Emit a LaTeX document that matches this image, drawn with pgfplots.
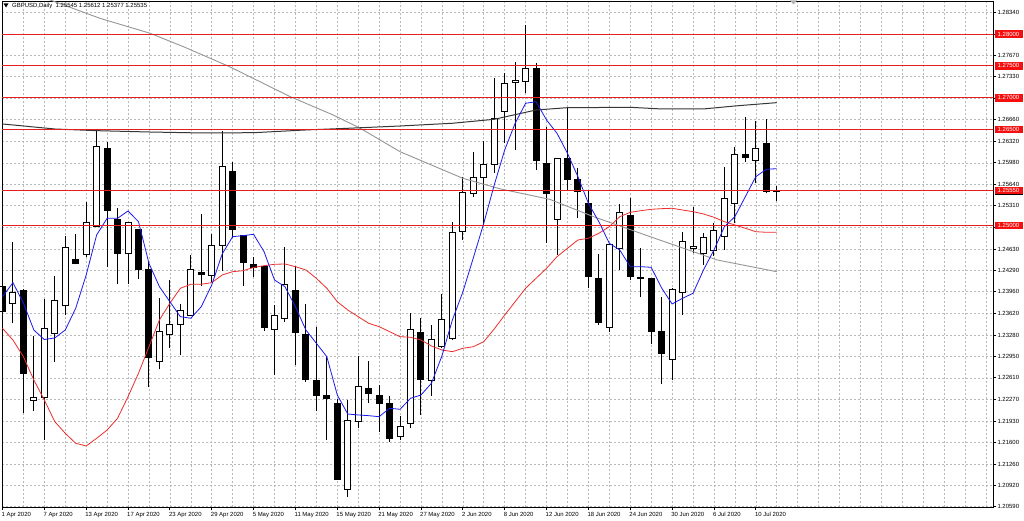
\documentclass[border=0pt]{standalone}
\usepackage{fontspec}
\setmainfont{Liberation Sans}
\usepackage{pgfplots}
\usepackage{pgfplotstable}
\pgfplotsset{compat=1.18}
\definecolor{lvl}{RGB}{232,30,30}
\definecolor{lbl}{RGB}{245,15,15}
\definecolor{maBlue}{RGB}{25,25,240}
\definecolor{maRed}{RGB}{238,45,45}
\definecolor{maDark}{RGB}{55,55,55}
\definecolor{maGrey}{RGB}{150,150,150}
\definecolor{gridc}{RGB}{185,185,185}

\pgfplotstableread{
i o h l c
0 1.24040 1.24405 1.23308 1.23648
1 1.23768 1.24745 1.23465 1.23951
2 1.23987 1.24000 1.22054 1.22681
3 1.22247 1.23266 1.22096 1.22305
4 1.22305 1.23841 1.21636 1.23386
5 1.23308 1.24207 1.22864 1.23815
6 1.23742 1.24834 1.23595 1.24656
7 1.24473 1.24860 1.24390 1.24405
8 1.24536 1.25372 1.24510 1.25043
9 1.24980 1.26485 1.24970 1.26234
10 1.26198 1.26313 1.24353 1.25226
11 1.25100 1.25268 1.24081 1.24562
12 1.24562 1.25060 1.24081 1.25048
13 1.24928 1.24940 1.24160 1.24311
14 1.24301 1.24431 1.22461 1.22932
15 1.22874 1.23857 1.22744 1.23334
16 1.23282 1.24144 1.23073 1.23439
17 1.23449 1.23768 1.22968 1.23658
18 1.23595 1.24536 1.23580 1.24301
19 1.24264 1.25179 1.24055 1.24228
20 1.24207 1.24860 1.24113 1.24688
21 1.24682 1.26485 1.24290 1.25921
22 1.25842 1.25999 1.24797 1.24928
23 1.24834 1.24850 1.24050 1.24416
24 1.24390 1.24510 1.24196 1.24338
25 1.24353 1.24370 1.23350 1.23397
26 1.23360 1.23752 1.22659 1.23595
27 1.23543 1.24667 1.23491 1.24081
28 1.23977 1.24364 1.22811 1.23318
29 1.23292 1.23768 1.22550 1.22587
30 1.22566 1.23402 1.22096 1.22341
31 1.22331 1.22942 1.21636 1.22289
32 1.22211 1.22273 1.21009 1.21019
33 1.20862 1.22263 1.20747 1.21939
34 1.21923 1.22953 1.21819 1.22482
35 1.22441 1.22874 1.22211 1.22367
36 1.22341 1.22498 1.21767 1.22211
37 1.22211 1.22326 1.21610 1.21662
38 1.21698 1.22012 1.21636 1.21855
39 1.21887 1.23632 1.21819 1.23360
40 1.23318 1.23543 1.22028 1.22587
41 1.22566 1.23439 1.22326 1.23214
42 1.23099 1.23925 1.23080 1.23517
43 1.23230 1.25059 1.23210 1.24886
44 1.24902 1.25764 1.24771 1.25513
45 1.25503 1.26145 1.25450 1.25748
46 1.25748 1.26323 1.25006 1.25957
47 1.25957 1.27316 1.25827 1.26668
48 1.26793 1.27384 1.26287 1.27227
49 1.27238 1.27556 1.26182 1.27279
50 1.27253 1.28142 1.27070 1.27462
51 1.27452 1.27541 1.25868 1.26010
52 1.25973 1.26548 1.24729 1.25492
53 1.25095 1.26060 1.24536 1.26051
54 1.26041 1.26861 1.25555 1.25712
55 1.25722 1.25895 1.25111 1.25539
56 1.25346 1.25555 1.24013 1.24196
57 1.24170 1.24552 1.23438 1.23480
58 1.23397 1.24700 1.23334 1.24693
59 1.24640 1.25335 1.24301 1.25205
60 1.25153 1.25424 1.24144 1.24196
61 1.24181 1.24640 1.23883 1.24160
62 1.24170 1.24180 1.23135 1.23344
63 1.23344 1.23883 1.22514 1.22984
64 1.22900 1.24013 1.22576 1.23998
65 1.23951 1.24902 1.23595 1.24745
66 1.24640 1.25294 1.24562 1.24667
67 1.24562 1.24876 1.24379 1.24813
68 1.24614 1.25043 1.24520 1.24912
69 1.24823 1.25921 1.24614 1.25424
70 1.25346 1.26234 1.25032 1.26104
71 1.26104 1.26694 1.25999 1.26067
72 1.26015 1.26642 1.25659 1.26208
73 1.26287 1.26668 1.25503 1.25529
74 1.25545 1.25612 1.25377 1.25535
}\ohlc

\pgfplotstableread{
i v
0 1.23882
1 1.24102
2 1.23783
3 1.23360
4 1.23211
5 1.23235
6 1.23360
7 1.23700
8 1.24222
9 1.24849
10 1.25111
11 1.25111
12 1.25226
13 1.25058
14 1.24406
15 1.24039
16 1.23804
17 1.23569
18 1.23544
19 1.23725
20 1.24066
21 1.24552
22 1.24823
23 1.24839
24 1.24860
25 1.24588
26 1.24144
27 1.24039
28 1.23725
29 1.23360
30 1.23152
31 1.22942
32 1.22341
33 1.22043
34 1.22028
35 1.22017
36 1.22001
37 1.22133
38 1.22117
39 1.22289
40 1.22341
41 1.22525
42 1.22953
43 1.23517
44 1.23956
45 1.24489
46 1.25033
47 1.25633
48 1.26182
49 1.26601
50 1.26914
51 1.26939
52 1.26652
53 1.26444
54 1.26130
55 1.25763
56 1.25346
57 1.25058
58 1.24719
59 1.24614
60 1.24353
61 1.24353
62 1.24343
63 1.24019
64 1.23768
65 1.23857
66 1.23936
67 1.24301
68 1.24614
69 1.24980
70 1.25136
71 1.25450
72 1.25763
73 1.25879
74 1.25889
}\mablue

\pgfplotstableread{
i v
0 1.23387
1 1.23203
2 1.22942
3 1.22576
4 1.22263
5 1.21923
6 1.21741
7 1.21584
8 1.21542
9 1.21662
10 1.21792
11 1.21976
12 1.22315
13 1.22681
14 1.23098
15 1.23517
16 1.23779
17 1.24014
18 1.24077
19 1.24077
20 1.24102
21 1.24222
22 1.24274
23 1.24290
24 1.24340
25 1.24368
26 1.24390
27 1.24395
28 1.24353
29 1.24301
30 1.24171
31 1.24014
32 1.23804
33 1.23674
34 1.23569
35 1.23465
36 1.23412
37 1.23334
38 1.23255
39 1.23246
40 1.23203
41 1.23109
42 1.23047
43 1.23020
44 1.23073
45 1.23098
46 1.23177
47 1.23376
48 1.23595
49 1.23804
50 1.24014
51 1.24171
52 1.24327
53 1.24509
54 1.24641
55 1.24771
56 1.24798
57 1.24876
58 1.24980
59 1.25136
60 1.25205
61 1.25230
62 1.25252
63 1.25262
64 1.25268
65 1.25241
66 1.25215
67 1.25179
68 1.25127
69 1.25058
70 1.25006
71 1.24955
72 1.24901
73 1.24892
74 1.24892
}\mared

\pgfplotstableread{
i v
0 1.26590
5 1.26511
9 1.26485
14 1.26464
19 1.26449
24 1.26453
29 1.26496
33 1.26522
38 1.26558
43 1.26601
47 1.26663
51 1.26809
54 1.26845
60 1.26851
63 1.26825
67 1.26825
70 1.26872
74 1.26924
}\madark

\pgfplotstableread{
i v
0 1.28784
4.55 1.28534
9.3 1.28247
14.1 1.28012
17.3 1.27801
21.7 1.27488
27.5 1.27018
31.6 1.26731
34.2 1.26522
38 1.26155
44 1.25738
47.6 1.25571
52.3 1.25409
56.5 1.25136
61.9 1.24823
68.3 1.24458
74 1.24274
}\magrey

\newcommand{\tf}{\fontsize{6}{7}\selectfont}

\begin{document}
\begin{tikzpicture}
\fill[white] (0,0) rectangle (1024bp,521bp);
\useasboundingbox (0,0) rectangle (1024bp,521bp);
\begin{axis}[
  at={(2bp,13.7bp)}, anchor=south west,
  scale only axis, width=991.3bp, height=506.3bp,
  xmin=-0.045, xmax=94.7, ymin=1.205806, ymax=1.285176,
  clip mode=individual,
  axis line style={black, line width=0.8bp},
  xtick={0,4,...,72},
  xticklabels={1 Apr 2020,7 Apr 2020,13 Apr 2020,17 Apr 2020,23 Apr 2020,29 Apr 2020,5 May 2020,11 May 2020,15 May 2020,21 May 2020,27 May 2020,2 Jun 2020,8 Jun 2020,12 Jun 2020,18 Jun 2020,24 Jun 2020,30 Jun 2020,6 Jul 2020,10 Jul 2020},
  minor xtick={2,6,10,14,18,22,26,30,34,38,42,46,50,54,58,62,66,70,74,76,78,80,82,84,86,88,90,92,94},
  ytick={1.2059,1.2092,1.2126,1.2160,1.2193,1.2227,1.2261,1.2295,1.2328,1.2362,1.2396,1.2429,1.2463,1.2497,1.2531,1.2564,1.2598,1.2632,1.2666,1.2699,1.2733,1.2767,1.2800,1.2834},
  yticklabels={1.20590,1.20920,1.21260,1.21600,1.21930,1.22270,1.22610,1.22950,1.23280,1.23620,1.23960,1.24290,1.24630,1.24970,1.25310,1.25640,1.25980,1.26320,1.26660,1.26990,1.27330,1.27670,1.28000,1.28340},
  xtick pos=left, xticklabel pos=left,
  ytick pos=right, yticklabel pos=right,
  tick align=outside, major tick length=3bp, minor tick length=0pt,
  tick style={black, line width=0.8bp},
  grid=both,
  grid style={gridc, dash pattern=on 2bp off 2bp, line width=0.6bp},
  minor grid style={gridc, dash pattern=on 2bp off 2bp, line width=0.6bp},
  ticklabel style={font=\tf, text=black},
  xticklabel style={anchor=base west, inner sep=0pt, xshift=-1bp, yshift=-6.5bp},
  yticklabel style={anchor=west, inner sep=0pt, xshift=1bp},
]
% wicks
\addplot[draw=none, no marks, error bars/.cd, y dir=plus, y explicit, error mark=none,
  error bar style={line width=1bp, draw=black}]
  table[x=i, y=l, y error plus expr={\thisrow{h}-\thisrow{l}}] {\ohlc};
% bodies (outer)
\addplot[draw=none, no marks, error bars/.cd, y dir=plus, y explicit, error mark=none,
  error bar style={line width=7bp, draw=black}]
  table[x=i, y expr={min(\thisrow{o},\thisrow{c})}, y error plus expr={abs(\thisrow{c}-\thisrow{o})}] {\ohlc};
% bodies (white inner for rising candles)
\addplot[draw=none, no marks, error bars/.cd, y dir=plus, y explicit, error mark=none,
  error bar style={line width=5bp, draw=white}]
  table[x=i, y=o, y error plus expr={max(\thisrow{c}-\thisrow{o},0)}] {\ohlc};
% body ends
\addplot[only marks, mark=-, mark size=3.5bp, mark options={draw=black, line width=1bp}] table[x=i, y=o] {\ohlc};
\addplot[only marks, mark=-, mark size=3.5bp, mark options={draw=black, line width=1bp}] table[x=i, y=c] {\ohlc};

% moving averages
\addplot[maGrey, line width=0.9bp, no marks] table[x=i, y=v] {\magrey};
\addplot[maDark, line width=1bp, no marks] table[x=i, y=v] {\madark};
\addplot[maRed, line width=0.8bp, no marks] table[x=i, y=v] {\mared};
\addplot[maBlue, line width=0.8bp, no marks] table[x=i, y=v] {\mablue};

% horizontal levels
\addplot[lvl, line width=0.9bp, no marks] coordinates {(-1,1.2800) (95,1.2800)};
\addplot[lvl, line width=0.9bp, no marks] coordinates {(-1,1.2750) (95,1.2750)};
\addplot[lvl, line width=0.9bp, no marks] coordinates {(-1,1.2700) (95,1.2700)};
\addplot[lvl, line width=0.9bp, no marks] coordinates {(-1,1.2650) (95,1.2650)};
\addplot[lvl, line width=0.9bp, no marks] coordinates {(-1,1.2555) (95,1.2555)};
\addplot[lvl, line width=0.9bp, no marks] coordinates {(-1,1.2500) (95,1.2500)};

% price labels
\tikzset{plab/.style={fill=lbl, text=white, font=\tf, inner sep=0pt, minimum width=28bp, minimum height=7.5bp, anchor=west, xshift=1bp}}
\node[plab, fill=black] at (axis cs:94.7,1.25535) {1.25535};
\node[plab] at (axis cs:94.7,1.2800) {1.28000};
\node[plab] at (axis cs:94.7,1.2750) {1.27500};
\node[plab] at (axis cs:94.7,1.2700) {1.27000};
\node[plab] at (axis cs:94.7,1.2650) {1.26500};
\node[plab] at (axis cs:94.7,1.2555) {1.25550};
\node[plab] at (axis cs:94.7,1.2500) {1.25000};
\end{axis}
% title
\fill[black] (3.5bp,517.5bp) -- (8.5bp,517.5bp) -- (6bp,513.5bp) -- cycle;
\node[anchor=west, inner sep=0pt, font=\tf] at (12bp,515.3bp) {GBPUSD,Daily\ \ 1.25545 1.25612 1.25377 1.25535};
\fill[gray!60] (790bp,520.5bp) -- (797bp,520.5bp) -- (793.5bp,516.5bp) -- cycle;
\end{tikzpicture}
\end{document}
